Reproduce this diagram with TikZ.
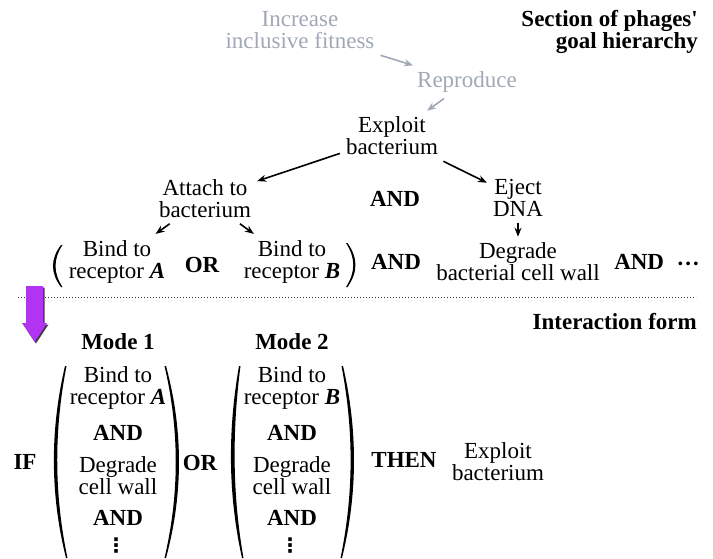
\documentclass[tikz,border=0pt]{standalone}
\usepackage{fontspec}
\setmainfont{Liberation Serif}
\newfontfamily\dotsfont{DejaVu Sans}
\usetikzlibrary{arrows.meta}
\definecolor{fadegray}{RGB}{160,168,182}
\definecolor{modeviolet}{RGB}{178,52,242}
\newcommand{\rcpt}[1]{\textbf{\textit{#1}}}

\begin{document}
\begin{tikzpicture}[x=1pt,y=-1pt,
  goal/.style={font=\fontsize{23}{22}\selectfont, align=center, inner sep=6pt},
  faded/.style={goal, text=fadegray},
  logic/.style={goal, font=\fontsize{23}{22}\selectfont\bfseries},
  link/.style={-{Stealth[length=9pt,width=7pt]}, line width=1.6pt},
  fadelink/.style={link, draw=fadegray},
  vdot/.style={goal, font=\fontsize{20}{20}\dotsfont\bfseries}]
  \useasboundingbox (0,0) rectangle (713,558);

  % goal hierarchy
  \node[faded] (fit) at (300,30.5) {Increase\\inclusive fitness};
  \node[faded] (repr) at (467,82) {Reproduce};
  \node[goal] (expl) at (392,136) {Exploit\\bacterium};
  \node[goal] (att) at (205,198.5) {Attach to\\bacterium};
  \node[logic] (and1) at (395,199) {AND};
  \node[goal] (eject) at (518,198) {Eject\\DNA};
  \node[goal] (bindA) at (117,261.5) {Bind to\\receptor \rcpt{A}};
  \node[logic] (or1) at (202,265) {OR};
  \node[goal] (bindB) at (292,261.5) {Bind to\\receptor \rcpt{B}};
  \node[logic] (and2) at (396,262) {AND};
  \node[goal] (degr) at (518,262) {Degrade\\bacterial cell wall};
  \node[logic] (and3) at (657,263) {AND\hspace{0.55em}\raisebox{-1.5pt}{···}};
  \node[logic, anchor=east, align=right] (title1) at (704,31.5) {Section of phages\textquotesingle\\goal hierarchy};

  \draw[fadelink] (fit) -- (repr);
  \draw[fadelink] (repr) -- (expl);
  \draw[link] (expl) -- (att);
  \draw[link] (expl) -- (eject);
  \draw[link] (att) -- (bindA);
  \draw[link] (att) -- (bindB);
  \draw[link] (eject) -- (degr);

  \fill (61,245) .. controls (50.3,259) and (50.3,273) .. (61,287) -- (62.5,287) .. controls (53.2,273) and (53.2,259) .. (62.5,245) -- cycle;
  \fill (347.5,243) .. controls (358.1,258) and (358.1,272) .. (347.5,287) -- (346,287) .. controls (355.7,272) and (355.7,258) .. (346,243) -- cycle;

  % separator and arrow
  \draw[dotted, line width=1pt, black!80] (18,297) -- (696,297);
  \fill[black!75] (27.5,287.5) -- (44.5,287.5) -- (44.5,324.5) -- (48.5,324.5) -- (36,343.5) -- (23.5,324.5) -- (27.5,324.5) -- cycle;
  \fill[modeviolet] (26,286) -- (43,286) -- (43,323) -- (47,323) -- (34.5,342) -- (22,323) -- (26,323) -- cycle;

  % interaction form
  \node[logic, anchor=east] (title2) at (703,322) {Interaction form};
  \node[logic] (mode1) at (118,342) {Mode 1};
  \node[logic] (mode2) at (292,342) {Mode 2};
  \node[logic] (if) at (25,462) {IF};
  \node[goal] (m1bind) at (118,387.5) {Bind to\\receptor \rcpt{A}};
  \node[logic] (m1and) at (118,433) {AND};
  \node[goal] (m1degr) at (118,476) {Degrade\\cell wall};
  \node[logic] (m1and2) at (118,518) {AND};
  \node[vdot] (m1dots) at (116,546) {⋮};
  \node[logic] (or2) at (200,463) {OR};
  \node[goal] (m2bind) at (292,387.5) {Bind to\\receptor \rcpt{B}};
  \node[logic] (m2and) at (292,433) {AND};
  \node[goal] (m2degr) at (292,476) {Degrade\\cell wall};
  \node[logic] (m2and2) at (292,518) {AND};
  \node[vdot] (m2dots) at (290,546) {⋮};
  \node[logic] (then) at (404,460) {THEN};
  \node[goal] (expl2) at (498,461.5) {Exploit\\bacterium};

  \fill (65,366) .. controls (50,430) and (50,494) .. (66,558) -- (67.5,558) .. controls (54,494) and (54,430) .. (66.5,366) -- cycle;
  \fill (166,366) .. controls (183.3,430) and (183.3,494) .. (166,558) -- (164.5,558) .. controls (179.5,494) and (179.5,430) .. (164.5,366) -- cycle;
  \fill (239,366) .. controls (227.8,430) and (227.8,494) .. (242,558) -- (243.5,558) .. controls (232.2,494) and (232.2,430) .. (240.5,366) -- cycle;
  \fill (343,366) .. controls (357.8,430) and (357.8,494) .. (342,558) -- (340.5,558) .. controls (353.8,494) and (353.8,430) .. (341.5,366) -- cycle;
\end{tikzpicture}
\end{document}
